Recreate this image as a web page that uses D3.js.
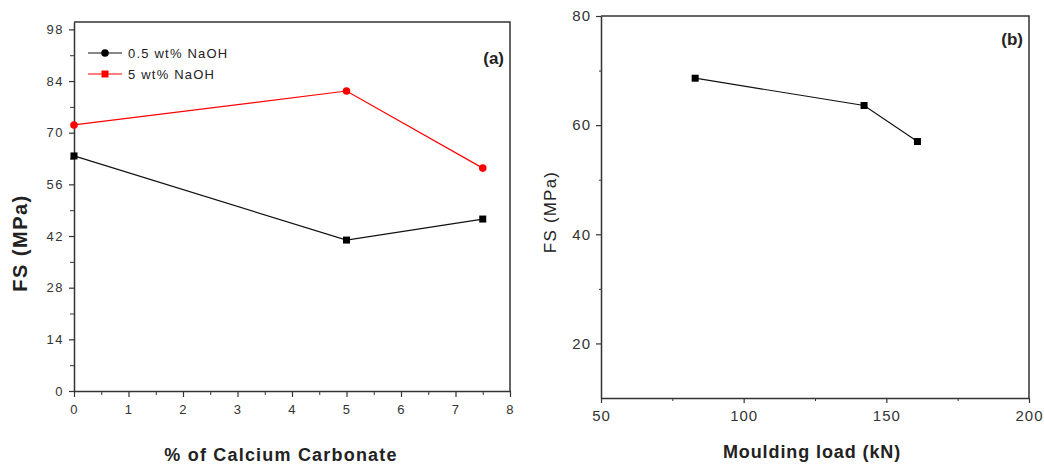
<!DOCTYPE html>
<html>
<head>
<meta charset="utf-8">
<style>
  body { margin: 0; background: #fff; }
  svg { display: block; font-family: "Liberation Sans", Arial, sans-serif; }
  .tick text { fill: #333; }
  .domain, .tick line { stroke: #333; }
</style>
<title>FS</title>
</head>
<body>
<script src="https://cdn.jsdelivr.net/npm/d3@7"></script>
<script>

// panel (a): % of calcium carbonate
var caco3 = [0, 5, 7.5];
var fsNaOH05 = [63.7, 40.9, 46.6];
var fsNaOH5 = [72.1, 81.3, 60.4];
var seriesNames = ["0.5 wt% NaOH", "5 wt% NaOH"];
var ticksA_y = [0, 14, 28, 42, 56, 70, 84, 98];
var ticksA_x = [0, 1, 2, 3, 4, 5, 6, 7, 8];

// panel (b): moulding load
var load = [83, 142.2, 160.9];
var fsLoad = [68.6, 63.6, 57.0];
var ticksB_y = [20, 40, 60, 80];
var ticksB_x = [50, 100, 150, 200];

var svg = d3.select("body").append("svg")
  .attr("width", 1044)
  .attr("height", 466);

// ---------- panel (a)
var xa = d3.scaleLinear().domain([0, 8]).range([74, 510]);
var ya = d3.scaleLinear().domain([0, 100]).range([391, 22]);

var ga = svg.append("g");

// frame (top/right)
ga.append("path")
  .attr("d", d3.line()([[xa(0), ya(100)], [xa(8), ya(100)], [xa(8), ya(0)]]))
  .attr("fill", "none").attr("stroke", "#333").attr("stroke-width", 1.5);

// minor ticks
ga.append("g").attr("transform", "translate(0," + ya(0) + ")")
  .call(d3.axisBottom(xa).tickValues(d3.range(0.5, 8, 1)).tickSize(4).tickFormat(""))
  .call(g => g.select(".domain").remove());
ga.append("g").attr("transform", "translate(" + xa(0) + ",0)")
  .call(d3.axisLeft(ya).tickValues(d3.range(7, 98, 14)).tickSize(4).tickFormat(""))
  .call(g => g.select(".domain").remove());

var axA_x = ga.append("g").attr("transform", "translate(0," + ya(0) + ")")
  .call(d3.axisBottom(xa).tickValues(ticksA_x).tickSize(6).tickSizeOuter(0).tickPadding(8));
var axA_y = ga.append("g").attr("transform", "translate(" + xa(0) + ",0)")
  .call(d3.axisLeft(ya).tickValues(ticksA_y).tickSize(5).tickSizeOuter(0).tickPadding(5));
[axA_x, axA_y].forEach(function(a) {
  a.select(".domain").attr("stroke-width", 1.5);
  a.selectAll(".tick line").attr("stroke-width", 1.2);
  a.selectAll("text").style("font-size", "13px").style("letter-spacing", "1.5px").attr("font-family", null);
});

var line_a = d3.line().x(d => xa(d[0])).y(d => ya(d[1]));
var blackPts = caco3.map((c, i) => [c, fsNaOH05[i]]);
var redPts = caco3.map((c, i) => [c, fsNaOH5[i]]);

ga.append("path").attr("d", line_a(redPts)).attr("fill", "none").attr("stroke", "#ff0000").attr("stroke-width", 1.2);
ga.append("path").attr("d", line_a(blackPts)).attr("fill", "none").attr("stroke", "#111").attr("stroke-width", 1.2);

ga.selectAll(".ptRed").data(redPts).enter().append("circle")
  .attr("cx", d => xa(d[0])).attr("cy", d => ya(d[1])).attr("r", 3.8).attr("fill", "#ff0000");
ga.selectAll(".ptBlack").data(blackPts).enter().append("rect")
  .attr("x", d => xa(d[0]) - 3.5).attr("y", d => ya(d[1]) - 3.5)
  .attr("width", 7).attr("height", 7).attr("fill", "#000");

// legend
var leg = ga.append("g");
var legColors = ["#111", "#ff0000"];
seriesNames.forEach(function(name, i) {
  var y = 53 + i * 21;
  leg.append("line").attr("x1", 88).attr("x2", 122).attr("y1", y).attr("y2", y)
    .attr("stroke", legColors[i]).attr("stroke-width", 1.2);
  if (i === 0) {
    leg.append("circle").attr("cx", 105).attr("cy", y).attr("r", 3.8).attr("fill", "#000");
  } else {
    leg.append("rect").attr("x", 101.5).attr("y", y - 3.5).attr("width", 7).attr("height", 7).attr("fill", "#ff0000");
  }
  leg.append("text").attr("x", 128).attr("y", y).attr("dy", "0.35em")
    .style("font-size", "13px").style("letter-spacing", "1.2px").attr("fill", "#222")
    .text(name);
});

ga.append("text").attr("x", 504).attr("y", 64).attr("text-anchor", "end")
  .style("font-size", "17px").style("font-weight", "bold").attr("fill", "#222").text("(a)");

ga.append("text")
  .attr("transform", "translate(27,243) rotate(-90)")
  .attr("text-anchor", "middle")
  .style("font-size", "20px").style("font-weight", "bold").style("letter-spacing", "1.5px").attr("fill", "#222")
  .text("FS (MPa)");

ga.append("text").attr("x", 281).attr("y", 461).attr("text-anchor", "middle")
  .style("font-size", "18px").style("font-weight", "bold").style("letter-spacing", "1.2px").attr("fill", "#222")
  .text("% of Calcium Carbonate");

// ---------- panel (b)
var xb = d3.scaleLinear().domain([50, 200]).range([601, 1029]);
var yb = d3.scaleLinear().domain([10, 80]).range([398, 16]);

var gb = svg.append("g");

gb.append("path")
  .attr("d", d3.line()([[xb(50), yb(80)], [xb(200), yb(80)], [xb(200), yb(10)]]))
  .attr("fill", "none").attr("stroke", "#333").attr("stroke-width", 1.5);

gb.append("g").attr("transform", "translate(0," + yb(10) + ")")
  .call(d3.axisBottom(xb).tickValues([75, 125, 175]).tickSize(3).tickFormat(""))
  .call(g => g.select(".domain").remove());
gb.append("g").attr("transform", "translate(" + xb(50) + ",0)")
  .call(d3.axisLeft(yb).tickValues([30, 50, 70]).tickSize(2).tickFormat(""))
  .call(g => g.select(".domain").remove());

var axB_x = gb.append("g").attr("transform", "translate(0," + yb(10) + ")")
  .call(d3.axisBottom(xb).tickValues(ticksB_x).tickSize(5).tickSizeOuter(0).tickPadding(7));
var axB_y = gb.append("g").attr("transform", "translate(" + xb(50) + ",0)")
  .call(d3.axisLeft(yb).tickValues(ticksB_y).tickSize(5).tickSizeOuter(0).tickPadding(5));
[axB_x, axB_y].forEach(function(a) {
  a.select(".domain").attr("stroke-width", 1.5);
  a.selectAll(".tick line").attr("stroke-width", 1.2);
  a.selectAll("text").style("font-size", "15px").style("letter-spacing", "1px").attr("font-family", null);
});

var loadPts = load.map((l, i) => [l, fsLoad[i]]);
var line_b = d3.line().x(d => xb(d[0])).y(d => yb(d[1]));
gb.append("path").attr("d", line_b(loadPts)).attr("fill", "none").attr("stroke", "#111").attr("stroke-width", 1.2);
gb.selectAll(".ptLoad").data(loadPts).enter().append("rect")
  .attr("x", d => xb(d[0]) - 3.5).attr("y", d => yb(d[1]) - 3.5)
  .attr("width", 7).attr("height", 7).attr("fill", "#000");

gb.append("text").attr("x", 1023).attr("y", 45).attr("text-anchor", "end")
  .style("font-size", "17px").style("font-weight", "bold").attr("fill", "#222").text("(b)");

gb.append("text")
  .attr("transform", "translate(556,212) rotate(-90)")
  .attr("text-anchor", "middle")
  .style("font-size", "17px").style("letter-spacing", "1.2px").attr("fill", "#222")
  .text("FS (MPa)");

gb.append("text").attr("x", 812).attr("y", 458).attr("text-anchor", "middle")
  .style("font-size", "18px").style("font-weight", "bold").style("letter-spacing", "0.9px").attr("fill", "#222")
  .text("Moulding load (kN)");

</script>
</body>
</html>
